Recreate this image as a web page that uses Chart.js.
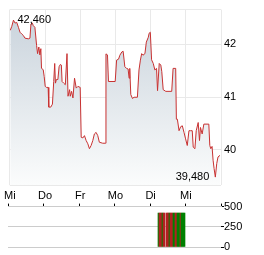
<!DOCTYPE html>
<html><head><meta charset="utf-8">
<script src="https://cdn.jsdelivr.net/npm/chart.js@4/dist/chart.umd.min.js"></script>
<style>
html,body{margin:0;padding:0;background:#fff;width:264px;height:255px;overflow:hidden;}
#main{position:absolute;left:0;top:0;}
#vol{position:absolute;left:0;top:200px;}
</style></head><body>
<canvas id="main" width="264" height="203"></canvas>
<canvas id="vol" width="264" height="55"></canvas>
<script>
// x axis: day positions (0 = first "Mi")
const dayLabels = ["Mi", "Do", "Fr", "Mo", "Di", "Mi", ""];
const times = [0.014,0.056,0.104,0.149,0.197,0.245,0.290,0.338,0.386,0.431,0.527,0.572,0.600,0.639,0.668,0.713,0.761,0.789,0.825,0.854,0.882,0.901,0.949,0.977,1.006,1.042,1.090,1.107,1.163,1.211,1.248,1.276,1.296,1.324,1.366,1.400,1.437,1.465,1.485,1.530,1.577,1.625,1.654,1.699,1.718,1.755,1.794,1.839,1.887,1.935,2.000,2.028,2.076,2.121,2.169,2.217,2.262,2.310,2.358,2.403,2.451,2.499,2.544,2.639,2.713,2.732,2.775,2.803,2.994,3.034,3.090,3.127,3.183,3.220,3.268,3.315,3.361,3.389,3.408,3.437,3.485,3.530,3.625,3.670,3.710,3.746,3.783,3.839,3.879,3.935,3.958,3.992,4.028,4.076,4.121,4.169,4.197,4.245,4.290,4.318,4.358,4.431,4.600,4.639,4.713,4.732,4.761,4.808,4.854,4.901,4.949,4.994,5.042,5.090,5.135,5.183,5.211,5.259,5.296,5.352,5.389,5.417,5.465,5.513,5.654,5.682,5.710,5.746,5.775,5.803,5.839,5.879,5.915,5.972];
const prices = [42.267,42.342,42.460,42.404,42.417,42.324,42.230,42.198,42.168,42.118,42.105,42.118,42.385,42.404,42.355,42.324,41.981,41.824,41.950,41.800,41.918,41.544,41.520,41.389,41.202,41.183,41.183,40.809,40.809,40.865,41.295,41.637,41.264,41.333,41.333,41.576,41.619,41.607,41.295,41.264,41.234,41.824,41.015,41.140,41.015,41.108,40.983,41.357,41.170,41.202,41.183,40.236,40.224,40.267,40.174,40.112,40.019,40.080,40.174,40.299,40.329,40.267,40.142,40.123,40.123,41.819,41.800,41.295,41.295,41.701,41.720,41.794,41.856,41.869,41.576,41.544,41.533,41.357,41.544,41.047,40.972,40.996,40.996,41.514,41.701,41.824,41.794,41.824,42.043,42.136,42.211,42.230,41.707,41.637,41.514,41.544,41.121,41.637,41.607,41.482,41.140,41.108,41.108,41.544,41.544,40.579,40.579,40.361,40.436,40.454,40.329,40.206,40.080,40.361,40.361,40.361,40.049,40.019,40.361,40.516,40.174,40.422,40.299,40.486,40.486,40.080,40.019,40.062,39.800,39.645,39.480,39.738,39.862,39.893];
const priceTicks = [40, 41, 42];
// volume
const volTimes = [4.239,4.268,4.296,4.324,4.352,4.380,4.408,4.437,4.465,4.493,4.521,4.549,4.577,4.606,4.634,4.662,4.690,4.718,4.746,4.775,4.803,4.831,4.859,4.887,4.915,4.944,4.972];
const volumes = [420,420,420,420,420,420,420,0,420,420,420,420,420,420,420,420,420,420,420,420,420,420,420,420,420,420,420];
const volDir = ["up","down","down","down","up","down","down","down","down","down","down","up","down","down","down","up","up","down","down","up","up","up","down","up","up","up","up"];
const volTicks = [0, 250, 500];

const FONT = {family: "'Liberation Sans', Arial, sans-serif", size: 11};
Chart.defaults.font.family = FONT.family;
Chart.defaults.font.size = 11;
Chart.defaults.color = '#000';

const labelPlugin = {
  id: 'extremes',
  afterDatasetsDraw(chart) {
    const xs = chart.scales.x, ys = chart.scales.y, ctx = chart.ctx;
    let iMax = 0, iMin = 0;
    prices.forEach((p, i) => { if (p > prices[iMax]) iMax = i; if (p < prices[iMin]) iMin = i; });
    const fmt = v => v.toFixed(3).replace('.', ',');
    ctx.save();
    ctx.font = '11px ' + FONT.family;
    ctx.fillStyle = '#000';
    ctx.textBaseline = 'middle';
    ctx.textAlign = 'left';
    ctx.fillText(fmt(prices[iMax]), xs.getPixelForValue(times[iMax]) + 4, ys.getPixelForValue(prices[iMax]));
    ctx.textAlign = 'right';
    ctx.fillText(fmt(prices[iMin]), xs.getPixelForValue(times[iMin]) - 6, ys.getPixelForValue(prices[iMin]));
    ctx.restore();
  }
};

new Chart(document.getElementById('main'), {
  type: 'line',
  data: {
    datasets: [{
      data: times.map((t, i) => ({x: t, y: prices[i]})),
      borderColor: '#c83232',
      borderWidth: 1,
      pointRadius: 0,
      tension: 0,
      fill: 'start',
      backgroundColor: (c) => {
        const a = c.chart.chartArea;
        if (!a) return '#dde3e8';
        const g = c.chart.ctx.createLinearGradient(0, a.top, 0, a.bottom);
        g.addColorStop(0, '#c8d2db');
        g.addColorStop(1, '#fbfcfc');
        return g;
      }
    }]
  },
  options: {
    responsive: false, animation: false, devicePixelRatio: 1,
    layout: {padding: {left: 8, top: 7, right: 0, bottom: 0}},
    plugins: {legend: {display: false}, tooltip: {enabled: false}},
    scales: {
      x: {
        type: 'linear', min: 0, max: 6,
        afterBuildTicks: s => { s.ticks = dayLabels.map((_, i) => ({value: i})); },
        afterFit: s => { s.height = 18; },
        ticks: {autoSkip: false, maxRotation: 0, padding: 4, callback: (v) => dayLabels[v] ?? '', color: '#000'},
        grid: {color: '#e9e9e9', drawTicks: false},
        border: {display: false}
      },
      y: {
        position: 'right', min: 39.33, max: 42.66,
        afterBuildTicks: s => { s.ticks = [39.33, ...priceTicks, 42.66].map(v => ({value: v})); },
        afterFit: s => { s.width = 43; },
        ticks: {padding: 3, color: '#000', callback: v => priceTicks.includes(v) ? String(v) : ''},
        grid: {color: '#e9e9e9', drawTicks: false},
        border: {display: false}
      }
    }
  },
  plugins: [labelPlugin]
});

new Chart(document.getElementById('vol'), {
  type: 'bar',
  data: {
    datasets: [{
      data: volTimes.map((t, i) => ({x: t, y: volumes[i]})),
      backgroundColor: volDir.map(d => d === 'up' ? '#008000' : '#b22222'),
      borderWidth: 0,
      barPercentage: 1, categoryPercentage: 1
    }]
  },
  options: {
    responsive: false, animation: false, devicePixelRatio: 1,
    layout: {padding: {left: 8, top: 0, right: 0, bottom: 8}},
    plugins: {legend: {display: false}, tooltip: {enabled: false}},
    scales: {
      x: {
        type: 'linear', position: 'top', min: 0, max: 6, offset: false,
        afterBuildTicks: s => { s.ticks = dayLabels.map((_, i) => ({value: i})); },
        afterFit: s => { s.height = 6; },
        ticks: {display: false},
        grid: {display: true, offset: false, drawOnChartArea: false, drawTicks: true, tickLength: 3, tickColor: '#000'},
        border: {display: true, color: '#cccccc'}
      },
      y: {
        position: 'right', min: 0, max: 500,
        afterBuildTicks: s => { s.ticks = volTicks.map(v => ({value: v})); },
        afterFit: s => { s.width = 43; },
        ticks: {padding: 0, color: '#000', callback: v => String(v)},
        grid: {color: '#cccccc', drawTicks: true, tickLength: 3, tickColor: '#000'},
        border: {display: false}
      }
    }
  }
});
</script>
</body></html>
